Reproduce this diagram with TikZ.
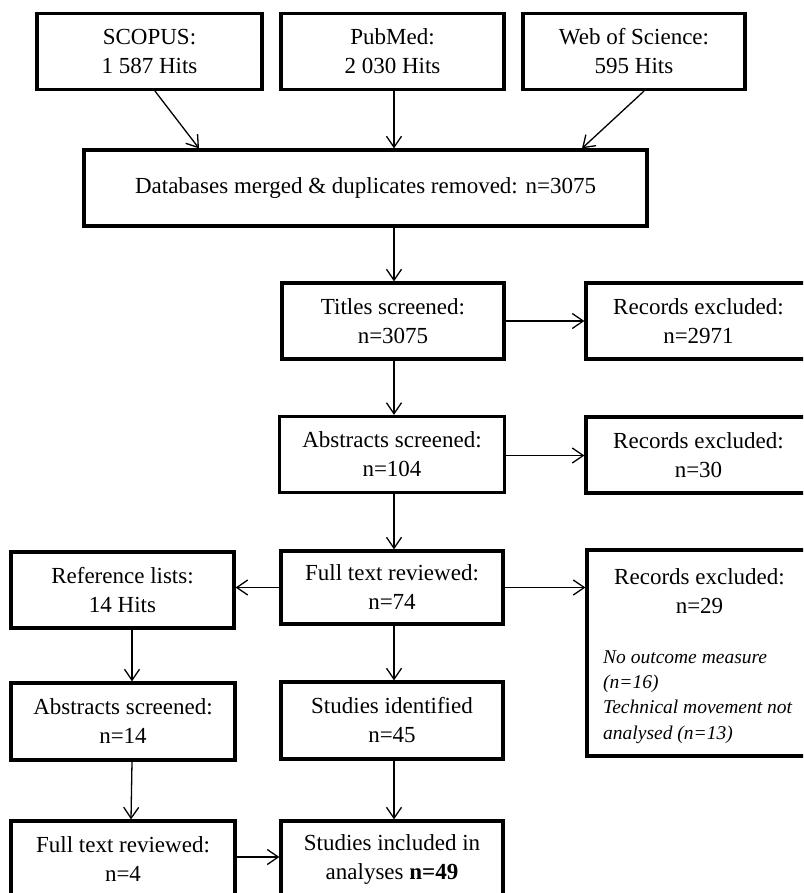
\documentclass[tikz,border=0pt]{standalone}
\usepackage{fontspec}
\setmainfont{Liberation Serif}
\usetikzlibrary{arrows.meta}
\begin{document}
\begin{tikzpicture}[x=1pt,y=-1pt,
  box/.style={draw, line width=3.2pt, inner sep=0pt, align=center,
    minimum height=76pt, font=\fontsize{23}{29}\selectfont},
  note/.style={inner sep=0pt, align=left, font=\fontsize{19.5}{25.3}\selectfont\itshape},
  txt/.style={inner sep=0pt, align=center, font=\fontsize{23}{29}\selectfont},
  arr/.style={line width=1.3pt, -{Straight Barb[length=11pt,width=15pt,line width=1.3pt]}}]
\clip (0,0) rectangle (803,893);
% top row
\node[box, minimum width=225pt] (scopus) at (149.5,51.5) {SCOPUS:\\1 587 Hits};
\node[box, minimum width=223pt] (pubmed) at (392.5,51.5) {PubMed:\\2 030 Hits};
\node[box, minimum width=222pt] (wos) at (634,51.5) {Web of Science:\\595 Hits};
\node[box, minimum width=563pt] (db) at (365.5,188) {Databases merged \& duplicates removed: n=3075};
% middle column
\node[box, minimum width=222pt] (titles) at (393,321) {Titles screened:\\n=3075};
\node[box, minimum width=225pt] (abs) at (392,454.5) {Abstracts screened:\\n=104};
\node[box, minimum width=222pt, minimum height=73pt] (ft) at (392,587.5) {Full text reviewed:\\n=74};
\node[box, minimum width=222pt, minimum height=77pt] (sid) at (392,720.5) {Studies identified\\n=45};
\node[box, minimum width=222pt] (sinc) at (392,859) {Studies included in\\analyses \textbf{n=49}};
% right column
\node[box, minimum width=225pt] (rec1) at (698.5,321) {Records excluded:\\n=2971};
\node[box, minimum width=225pt] (rec2) at (698.5,455) {Records excluded:\\n=30};
\node[box, minimum width=225pt, minimum height=206pt] (rec3) at (699.5,653) {};
\node[txt] (rec3t) at (699.5,591) {Records excluded:\\n=29};
\node[note, anchor=west] (rec3n) at (603,697) {No outcome measure\\(n=16)\\Technical movement not\\analysed (n=13)};
% left column
\node[box, minimum width=223pt] (ref) at (122.5,590) {Reference lists:\\14 Hits};
\node[box, minimum width=224pt, minimum height=77pt] (abs2) at (123,721.5) {Abstracts screened:\\n=14};
\node[box, minimum width=224pt] (ft2) at (123,859) {Full text reviewed:\\n=4};
% connectors
\draw[arr] ([xshift=5.5pt]scopus.south) -- ([xshift=-166.5pt]db.north);
\draw[arr] ([xshift=1.5pt]pubmed.south) -- ([xshift=28.5pt]db.north);
\draw[arr] ([xshift=10pt]wos.south) -- ([xshift=216.5pt]db.north);
\draw[arr] ([xshift=1pt]titles.north |- db.south) -- ([xshift=1pt]titles.north);
\draw[arr] (titles.east) -- (titles.east -| rec1.west);
\draw[arr] ([xshift=2pt]titles.south -| abs.north) -- ([xshift=2pt]abs.north);
\draw[arr] ([yshift=-1pt]abs.east) -- ([yshift=-1pt]abs.east -| rec2.west);
\draw[arr] ([xshift=2pt]abs.south) -- ([xshift=2pt]abs.south |- ft.north);
\draw[arr] (ft.east) -- (ft.east -| rec3.west);
\draw[arr] (ft.west) -- (ft.west -| ref.east);
\draw[arr] ([xshift=9.5pt]ref.south) -- ([xshift=9.5pt]ref.south |- abs2.north);
\draw[arr] ([xshift=9pt]abs2.south) -- ([xshift=8pt]abs2.south |- ft2.north);
\draw[arr] ([xshift=2pt]ft.south) -- ([xshift=2pt]ft.south |- sid.north);
\draw[arr] ([xshift=2pt]sid.south) -- ([xshift=2pt]sid.south |- sinc.north);
\draw[arr] ([yshift=2pt]ft2.east) -- ([yshift=2pt]ft2.east -| sinc.west);
\end{tikzpicture}
\end{document}
